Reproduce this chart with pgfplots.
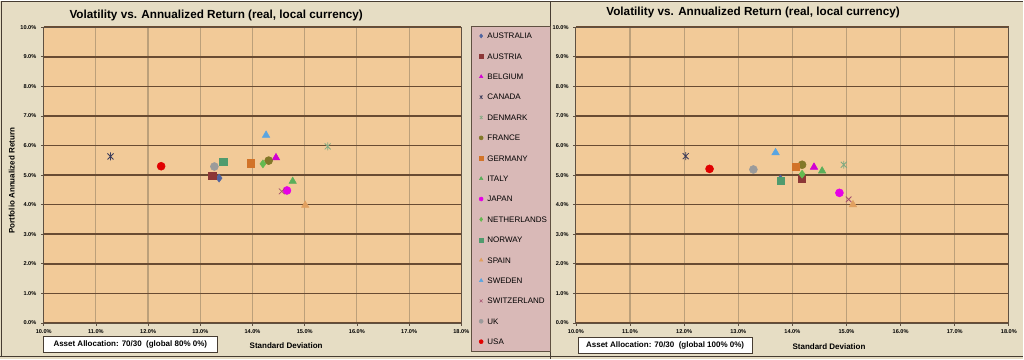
\documentclass[border=0pt]{standalone}
\usepackage{pgfplots}
\pgfplotsset{compat=1.18}
\usepackage{fontspec}
\setmainfont{Liberation Sans}
\definecolor{bgc}{RGB}{230,221,196}
\definecolor{plotc}{RGB}{242,202,152}
\definecolor{legc}{RGB}{217,185,183}
\definecolor{hgrid}{RGB}{105,75,50}
\definecolor{vgrid}{RGB}{188,160,122}
\definecolor{axisc}{RGB}{95,80,65}
\definecolor{framec}{RGB}{70,60,50}
\definecolor{cAU}{RGB}{80,100,160}
\definecolor{cAT}{RGB}{140,55,55}
\definecolor{cBE}{RGB}{210,0,210}
\definecolor{cCA}{RGB}{60,60,90}
\definecolor{cDK}{RGB}{130,170,130}
\definecolor{cFR}{RGB}{130,120,40}
\definecolor{cDE}{RGB}{210,115,40}
\definecolor{cIT}{RGB}{90,175,90}
\definecolor{cJP}{RGB}{230,0,230}
\definecolor{cNL}{RGB}{100,185,80}
\definecolor{cNO}{RGB}{80,155,110}
\definecolor{cES}{RGB}{225,160,95}
\definecolor{cSE}{RGB}{90,165,225}
\definecolor{cCH}{RGB}{165,80,110}
\definecolor{cUK}{RGB}{155,155,155}
\definecolor{cUS}{RGB}{225,0,0}
\pgfdeclareplotmark{xstar}{%
  \pgfpathmoveto{\pgfqpoint{-0.75\pgfplotmarksize}{-0.75\pgfplotmarksize}}%
  \pgfpathlineto{\pgfqpoint{0.75\pgfplotmarksize}{0.75\pgfplotmarksize}}%
  \pgfpathmoveto{\pgfqpoint{-0.75\pgfplotmarksize}{0.75\pgfplotmarksize}}%
  \pgfpathlineto{\pgfqpoint{0.75\pgfplotmarksize}{-0.75\pgfplotmarksize}}%
  \pgfpathmoveto{\pgfqpoint{0pt}{-\pgfplotmarksize}}%
  \pgfpathlineto{\pgfqpoint{0pt}{\pgfplotmarksize}}%
  \pgfusepathqstroke}
\pgfplotsset{
  sAU/.style={color=cAU, mark=diamond*, mark size=3pt},
  sAT/.style={color=cAT, mark=square*, mark size=2.7pt},
  sBE/.style={color=cBE, mark=triangle*, mark size=3.2pt},
  sCA/.style={color=cCA, mark=xstar, mark size=3pt, line width=0.6pt},
  sDK/.style={color=cDK, mark=xstar, mark size=3pt, line width=0.6pt},
  sFR/.style={color=cFR, mark=*, mark size=3pt},
  sDE/.style={color=cDE, mark=square*, mark size=2.7pt},
  sIT/.style={color=cIT, mark=triangle*, mark size=3.2pt},
  sJP/.style={color=cJP, mark=*, mark size=3pt},
  sNL/.style={color=cNL, mark=diamond*, mark size=3pt},
  sNO/.style={color=cNO, mark=square*, mark size=2.7pt},
  sES/.style={color=cES, mark=triangle*, mark size=3.2pt},
  sSE/.style={color=cSE, mark=triangle*, mark size=3.2pt},
  sCH/.style={color=cCH, mark=x, mark size=3pt, line width=0.6pt},
  sUK/.style={color=cUK, mark=*, mark size=3pt},
  sUS/.style={color=cUS, mark=*, mark size=3pt},
  myaxis/.style={
    scale only axis, anchor=south west, height=222pt,
    xmin=10, xmax=18, ymin=0, ymax=10,
    xtick={10,11,...,18}, ytick={0,1,...,10},
    xticklabels={10.0\%,11.0\%,12.0\%,13.0\%,14.0\%,15.0\%,16.0\%,17.0\%,18.0\%},
    yticklabels={0.0\%,1.0\%,2.0\%,3.0\%,4.0\%,5.0\%,6.0\%,7.0\%,8.0\%,9.0\%,10.0\%},
    tick label style={font=\fontsize{4.2}{5}\selectfont\bfseries},
    xticklabel style={yshift=0.5pt},
    axis background/.style={fill=plotc},
    xmajorgrids, ymajorgrids,
    x grid style={draw=vgrid, line width=0.9pt},
    y grid style={draw=hgrid, line width=1.2pt},
    axis line style={draw=axisc, line width=0.7pt},
    tick pos=left, tick align=outside, major tick length=2pt,
    tick style={draw=axisc, line width=0.5pt},
  }
}
\begin{document}
\begin{tikzpicture}
\fill[bgc] (0,0) rectangle (768pt,269.25pt);
\draw[framec, line width=0.8pt] (0.6pt,2.25pt) -- (0.6pt,268.8pt) -- (768pt,268.8pt);
\draw[framec, line width=0.6pt] (0pt,2.25pt) -- (768pt,2.25pt);
\draw[framec, line width=0.8pt] (413.25pt,0pt) -- (413.25pt,269.25pt);
\draw[axisc, line width=0.5pt, fill=legc] (353.8pt,6pt) rectangle (412.5pt,249.75pt);
% left chart
\begin{axis}[myaxis, at={(32.5pt,27.2pt)}, width=313.5pt,
  legend style={at={(1.0383,0.9811)}, anchor=north west, draw=none, fill=none,
    inner sep=0pt, row sep=11pt, column sep=2pt,
    font=\fontsize{6}{7}\selectfont,
    nodes={inner sep=0pt, text height=4.3pt, text depth=0pt}},
  legend cell align=left,
  legend image code/.code={\path (0pt,0pt) (5pt,0pt); \draw[#1] plot coordinates {(2.5pt,0pt)};},
  legend image post style={mark size=1.5pt, line width=0.4pt},
]
\addplot[sAU] coordinates {(13.36,4.90)}; \addlegendentry{AUSTRALIA}
\addplot[sAT] coordinates {(13.23,4.99)}; \addlegendentry{AUSTRIA}
\addplot[sBE] coordinates {(14.45,5.59)}; \addlegendentry{BELGIUM}
\addplot[sCA] coordinates {(11.28,5.63)}; \addlegendentry{CANADA}
\addplot[sDK] coordinates {(15.44,5.97)}; \addlegendentry{DENMARK}
\addplot[sFR] coordinates {(14.31,5.49)}; \addlegendentry{FRANCE}
\addplot[sDE] coordinates {(13.96,5.40)}; \addlegendentry{GERMANY}
\addplot[sIT] coordinates {(14.77,4.79)}; \addlegendentry{ITALY}
\addplot[sJP] coordinates {(14.66,4.48)}; \addlegendentry{JAPAN}
\addplot[sNL] coordinates {(14.20,5.38)}; \addlegendentry{NETHERLANDS}
\addplot[sNO] coordinates {(13.44,5.44)}; \addlegendentry{NORWAY}
\addplot[sES] coordinates {(15.01,3.98)}; \addlegendentry{SPAIN}
\addplot[sSE] coordinates {(14.26,6.35)}; \addlegendentry{SWEDEN}
\addplot[sCH] coordinates {(14.56,4.45)}; \addlegendentry{SWITZERLAND}
\addplot[sUK] coordinates {(13.27,5.29)}; \addlegendentry{UK}
\addplot[sUS] coordinates {(12.25,5.30)}; \addlegendentry{USA}
\end{axis}
% right chart
\begin{axis}[myaxis, at={(432pt,27.2pt)}, width=325pt]
\addplot[sAU] coordinates {(13.78,4.87)};
\addplot[sAT] coordinates {(14.17,4.88)};
\addplot[sBE] coordinates {(14.40,5.27)};
\addplot[sCA] coordinates {(12.03,5.64)};
\addplot[sDK] coordinates {(14.95,5.35)};
\addplot[sFR] coordinates {(14.18,5.35)};
\addplot[sDE] coordinates {(14.07,5.29)};
\addplot[sIT] coordinates {(14.55,5.14)};
\addplot[sJP] coordinates {(14.87,4.40)};
\addplot[sNL] coordinates {(14.18,5.03)};
\addplot[sNO] coordinates {(13.79,4.82)};
\addplot[sES] coordinates {(15.12,4.00)};
\addplot[sSE] coordinates {(13.69,5.76)};
\addplot[sCH] coordinates {(15.04,4.18)};
\addplot[sUK] coordinates {(13.28,5.19)};
\addplot[sUS] coordinates {(12.47,5.21)};
\end{axis}
% titles and labels
\node[font=\fontsize{8.8}{10}\selectfont\bfseries] at (162pt,258.2pt) {Volatility vs. Annualized Return (real, local currency)};
\node[font=\fontsize{8.8}{10}\selectfont\bfseries] at (565pt,260pt) {Volatility vs. Annualized Return (real, local currency)};
\node[rotate=90, font=\fontsize{6}{7}\selectfont\bfseries] at (8.5pt,133.9pt) {Portfolio Annualized Return};
\node[font=\fontsize{6}{7}\selectfont\bfseries] at (214.5pt,10pt) {Standard Deviation};
\node[font=\fontsize{6}{7}\selectfont\bfseries] at (622pt,9.75pt) {Standard Deviation};
\node[draw=framec, line width=0.5pt, fill=white, minimum width=131pt, minimum height=12.25pt, inner sep=0pt, font=\fontsize{6}{7}\selectfont\bfseries] at (97.5pt,11.4pt) {Asset Allocation: 70/30\ \ (global 80\% 0\%)};
\node[draw=framec, line width=0.5pt, fill=white, minimum width=130.5pt, minimum height=11.7pt, inner sep=0pt, font=\fontsize{6}{7}\selectfont\bfseries] at (499pt,10.2pt) {Asset Allocation: 70/30\ \ (global 100\% 0\%)};
\end{tikzpicture}
\end{document}
